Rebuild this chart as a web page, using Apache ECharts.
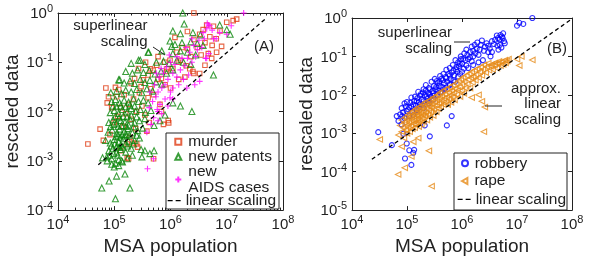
<!DOCTYPE html>
<html>
<head>
<meta charset="utf-8">
<script src="https://cdn.jsdelivr.net/npm/echarts@6/dist/echarts.min.js"></script>
<style>
  html, body { margin: 0; padding: 0; background: #fff; }
  #chart { width: 594px; height: 261px; }
</style>
</head>
<body>
<div id="chart"></div>
<script>
// ---- panel (A) : [MSA population, rescaled value] ----
var murder = [
  [3.4e4,2.2e-3],[5.6e4,4.4e-3],[6.4e4,2.6e-3],[7.1e4,3.0e-2],[7.9e4,2.0e-2],[8.4e4,3.4e-3],[7.5e4,1.5e-2],[9.0e4,1.2e-2],[1.05e5,3.1e-2],[1.1e5,2.0e-2],
  [1.3e5,1.6e-3],[1.7e5,2.2e-3],[1.8e5,1.1e-3],[2.2e5,2.3e-3],[2.6e5,1.9e-3],[5.0e5,1.1e-3],[1.7e5,1.15e-3],[2.5e5,2.2e-3],
  [1.0e5,6.0e-3],[1.15e5,8.0e-3],[1.3e5,1.2e-2],[1.45e5,5.0e-3],[1.6e5,9.0e-3],[1.8e5,1.4e-2],[2.0e5,7.0e-3],[2.2e5,1.8e-2],[2.5e5,1.0e-2],[2.8e5,2.4e-2],
  [3.1e5,1.3e-2],[3.5e5,8.5e-3],[3.0e5,3.2e-2],[2.4e5,4.5e-3],[1.9e5,3.0e-3],[1.2e5,2.8e-2],[1.5e5,2.2e-2],[4.0e5,1.9e-2],[4.5e5,2.9e-2],[3.8e5,4.0e-3],
  [4.2e5,6.0e-3],[9.3e5,5.9e-3],[7.5e5,5.5e-3],[6.5e5,1.4e-2],[9.1e5,6.6e-3],[6.9e5,1.0e-2],
  [2.0e5,3.7e-2],[2.3e5,4.7e-2],[3.3e5,4.4e-2],[4.0e5,5.5e-2],[4.9e5,6.9e-2],[5.7e5,8.7e-2],[7.9e5,0.10],[9.8e5,0.11],[1.3e6,0.16],[1.6e6,0.20],
  [2.0e6,0.19],[2.6e6,0.29],[3.3e6,0.37],[3.8e6,0.46],[5.8e6,0.54],[7.6e6,0.43],[1.0e7,0.65],[1.3e7,0.70],[1.5e7,0.75],[4.4e6,0.57],[2.6e6,1.0],
  [4.7e6,0.15],[1.2e6,0.32],[2.0e6,0.42],
  [2.7e5,0.075],[3.6e5,0.10],[6.0e5,0.13],[8.5e5,0.065],[1.1e6,0.075],[1.5e6,0.11],[1.9e6,0.085],[2.3e6,0.13],[3.0e6,0.20],[3.5e6,0.14],
  [4.1e6,0.25],[5.0e6,0.33],[5.5e6,0.22],[6.5e6,0.30],[1.8e6,0.05],[2.5e6,0.065],[8.0e5,0.035],[6.0e5,0.045],[1.0e6,0.03],[5.0e5,0.022],[1.4e6,0.045],
  [4.4e5,0.074],[6.9e5,0.047],[8.7e5,0.074],[1.38e6,0.10],[2.2e6,0.074],[2.6e6,0.059],[3.3e6,0.059],[4.1e6,0.087],[5.4e6,0.12],[6.6e6,0.16],[8.1e6,0.21]
];
var patents = [
  [6.0e4,2.8e-4],[1.05e5,1.7e-4],[1.1e5,4.9e-4],[8.1e4,3.9e-4],[1.55e5,5.4e-4],[1.9e5,2.8e-4],[6.2e4,1.15e-3],[7.4e4,1.2e-3],[9.0e4,8.5e-4],[1.0e5,7.5e-4],
  [1.2e5,8.0e-4],[1.35e5,1.0e-3],[1.7e5,1.1e-3],[2.1e5,1.3e-3],[3.0e5,1.7e-3],[3.1e5,1.2e-3],[4.3e5,1.4e-3],[5.1e5,1.6e-3],[3.5e5,1.6e-3],
  [7.5e4,1.0e-3],[9.0e4,1.1e-3],[1.05e5,9.0e-4],[1.2e5,1.05e-3],[1.4e5,9.5e-4],[1.15e5,1.3e-3],
  [8.0e4,1.6e-3],[9.5e4,1.8e-3],[1.1e5,1.5e-3],[1.3e5,1.7e-3],[1.6e5,1.5e-3],[2.0e5,1.8e-3],
  [7.0e4,2.6e-3],[8.5e4,2.3e-3],[1.0e5,2.7e-3],[1.2e5,2.4e-3],[1.45e5,2.8e-3],[1.8e5,2.5e-3],[2.3e5,2.6e-3],[2.8e5,2.9e-3],
  [7.8e4,3.8e-3],[9.2e4,4.2e-3],[1.1e5,3.6e-3],[1.25e5,4.4e-3],[1.5e5,3.9e-3],[1.75e5,4.5e-3],[2.1e5,3.7e-3],[2.6e5,4.1e-3],[3.2e5,4.6e-3],
  [8.0e4,6.0e-3],[9.5e4,6.8e-3],[1.1e5,5.8e-3],[1.3e5,6.6e-3],[1.55e5,6.1e-3],[1.9e5,7.0e-3],[2.3e5,5.9e-3],[2.8e5,6.5e-3],[3.5e5,7.2e-3],
  [8.5e4,9.5e-3],[1.0e5,1.05e-2],[1.2e5,9.2e-3],[1.4e5,1.1e-2],[1.7e5,9.8e-3],[2.0e5,1.15e-2],[2.4e5,1.0e-2],[2.9e5,1.1e-2],[3.6e5,9.6e-3],[4.5e5,1.05e-2],
  [9.0e4,1.6e-2],[1.05e5,1.75e-2],[1.25e5,1.5e-2],[1.5e5,1.7e-2],[1.8e5,1.55e-2],[2.2e5,1.8e-2],[2.7e5,1.6e-2],[3.3e5,1.7e-2],[4.0e5,1.5e-2],
  [8.7e4,2.4e-2],[1.1e5,2.6e-2],[1.35e5,2.3e-2],[1.6e5,2.7e-2],[2.0e5,2.5e-2],[2.5e5,2.8e-2],[3.1e5,2.4e-2],[3.8e5,2.9e-2],[4.8e5,2.6e-2],
  [1.2e5,4.4e-2],[1.5e5,3.8e-2],[1.9e5,4.2e-2],[2.3e5,3.7e-2],[2.9e5,4.5e-2],[3.5e5,3.9e-2],[4.3e5,4.3e-2],[5.5e5,4.0e-2],[7.0e5,3.6e-2],
  [1.6e5,6.5e-2],[2.1e5,6.0e-2],[2.6e5,7.0e-2],[3.3e5,6.2e-2],[4.2e5,6.8e-2],[5.3e5,5.8e-2],[6.8e5,6.6e-2],[8.5e5,6.0e-2],[1.1e6,7.0e-2],
  [2.0e5,0.095],[2.7e5,0.11],[3.5e5,0.09],[5.6e5,0.10],[7.5e5,0.105],[9.5e5,0.095],[1.3e6,0.11],[1.7e6,0.10],[2.3e6,0.09],
  [2.9e5,0.11],[4.1e5,0.16],[7.0e5,0.17],[1.1e6,0.15],[1.5e6,0.17],[2.0e6,0.16],[2.8e6,0.14],
  [9.8e5,0.27],[1.2e6,0.23],[1.6e6,0.25],[2.3e6,0.26],[3.0e6,0.24],[3.8e6,0.22],
  [1.1e6,0.43],[1.5e6,0.38],[2.5e6,0.40],[3.4e6,0.36],
  [1.65e6,1.0],[1.75e6,0.60],[7.5e6,0.57],[1.0e7,0.46],[1.15e7,0.37],[5.8e6,5.5e-2],[2.4e6,1.0e-2],[1.1e6,1.5e-2],[1.5e6,1.3e-2],
  [8.0e5,8.5e-3],[6.5e5,6.5e-3],[5.1e5,5.2e-3],[1.25e5,4.4e-2],[4.0e5,0.16],[1.05e6,0.21],
  [8.2e4,1.3e-3],[8.8e4,2.0e-3],[9.8e4,1.4e-3],[1.02e5,2.2e-3],[1.08e5,3.1e-3],[1.12e5,2.0e-3],[1.18e5,3.3e-3],[1.22e5,1.9e-3],[1.28e5,3.0e-3],
  [1.32e5,2.1e-3],[1.38e5,3.4e-3],[1.42e5,1.9e-3],[1.52e5,3.2e-3],[1.58e5,2.2e-3],[1.65e5,3.4e-3],[1.72e5,2.0e-3],[1.85e5,3.3e-3],[2.2e5,2.2e-3],
  [2.5e5,3.3e-3],[8.6e4,5.0e-3],[9.8e4,5.5e-3],[1.05e5,8.0e-3],[1.17e5,5.0e-3],[1.22e5,7.5e-3],[1.35e5,5.2e-3],[1.45e5,8.0e-3],[1.6e5,5.0e-3],
  [1.68e5,7.8e-3],[1.8e5,5.3e-3],[2.0e5,8.4e-3],[2.2e5,4.9e-3],[2.5e5,7.8e-3],[9.5e4,1.3e-2],[1.1e5,1.25e-2],[1.3e5,1.3e-2],[1.6e5,1.25e-2],
  [1.9e5,1.35e-2],[2.3e5,1.3e-2]
];
var aids = [
  [3.9e5,6.9e-4],[5.0e5,1.1e-3],[3.8e5,3.8e-3],[4.5e5,5.5e-3],[5.0e5,7.5e-3],[6.0e5,6.5e-3],[7.0e5,9.0e-3],
  [4.2e5,1.2e-2],[4.8e5,1.6e-2],[5.5e5,2.0e-2],[6.0e5,2.5e-2],[7.0e5,3.0e-2],[8.0e5,3.5e-2],[9.0e5,4.5e-2],[1.1e6,6.0e-2],[1.3e6,5.0e-2],
  [1.5e6,7.0e-2],[1.8e6,8.5e-2],[2.0e6,0.12],[2.4e6,0.10],[2.8e6,0.13],[3.0e6,0.18],[3.6e6,0.20],[4.2e6,0.12],[4.8e6,0.15],[6.5e6,0.30],
  [5.5e6,0.45],[4.5e6,0.62],[5.0e6,0.55],[1.0e7,0.37],[1.2e7,0.55],[2.0e7,1.0],
  [5.2e5,3.5e-2],[6.3e5,5.0e-2],[7.5e5,6.0e-2],[8.5e5,8.0e-2],[1.0e6,0.10],[1.2e6,9.0e-2],[1.6e6,0.12],[2.2e6,0.16],[2.6e6,0.22],[3.2e6,0.28],[4.0e6,0.30],
  [1.4e6,3.5e-2],[1.7e6,4.5e-2],[2.1e6,5.5e-2],[1.0e6,2.5e-2],[8.0e5,1.8e-2],[6.5e5,1.4e-2],[5.8e5,1.1e-2],[9.0e5,1.3e-2],[1.1e6,1.8e-2],
  [4.3e5,2.5e-2],[5.6e5,6.0e-2],[6.8e5,7.5e-2],[9.5e5,0.14],[1.3e6,0.13],[1.9e6,0.20],[2.4e6,0.30],[3.8e6,0.40],[4.4e6,0.48],[7.5e6,0.40],
  [4.7e6,0.57],[5.8e6,0.30],[4.4e6,0.12],[3.3e6,4.1e-2],[2.7e6,3.5e-2],[1.95e6,3.0e-2],[1.1e6,3.0e-2],[9.8e5,1.9e-2],[6.0e5,1.0e-2]
];
var linearA = [[5.2e4, 8.3e-4], [5.1e7, 0.8]];

// ---- panel (B) ----
var robbery = [
  [1.9e7,1.0],[1.0e7,0.63],[1.1e7,0.75],[1.3e7,0.70],
  [5.6e6,0.40],[5.3e6,0.33],[4.8e6,0.28],[5.8e6,0.25],[4.5e6,0.30],[4.3e6,0.35],[4.9e6,0.20],[5.2e6,0.17],[6.0e6,0.22],[4.6e6,0.15],
  [3.5e6,0.13],[3.3e6,0.10],[3.0e6,0.19],[2.1e6,0.15],[1.9e6,0.23],[1.6e6,0.14],[1.2e6,0.15],[1.4e6,0.095],[1.05e6,0.086],[9.1e5,0.064],
  [7.9e5,0.053],[7.0e5,0.043],[6.0e5,0.032],[5.2e5,0.027],[4.5e5,0.024],[3.9e5,0.022],[3.4e5,0.016],[3.0e5,0.011],[2.6e5,0.010],[2.3e5,0.0092],
  [2.0e5,0.0068],[1.7e5,0.0056],[1.5e5,0.0068],[1.3e5,0.0056],[1.1e5,0.0047],[9.9e4,0.0038],[7.5e4,0.0031],[8.0e4,0.0017],[8.6e4,9.7e-4],
  [9.9e4,5.4e-4],[1.1e5,3.6e-4],[1.3e5,3.1e-4],[9.2e4,2.2e-4],[1.2e5,1.5e-4],[3.0e4,1.07e-3],[5.3e4,4.9e-4],[5.3e5,1.6e-3],[6.5e5,2.8e-3],
  [2.1e5,1.6e-3],[2.6e5,8.3e-4],[1.35e5,3.7e-4],
  [1.0e5,6.5e-3],[1.2e5,8.5e-3],[1.4e5,9.0e-3],[1.6e5,1.2e-2],[1.8e5,1.05e-2],[2.0e5,1.4e-2],[2.2e5,1.8e-2],[2.5e5,1.5e-2],[2.8e5,2.2e-2],
  [3.2e5,2.6e-2],[3.6e5,2.0e-2],[4.0e5,3.1e-2],[4.6e5,3.5e-2],[5.2e5,4.5e-2],[6.0e5,5.0e-2],[6.8e5,6.0e-2],[7.6e5,8.0e-2],[8.5e5,7.0e-2],
  [9.5e5,0.10],[1.1e6,0.12],[1.25e6,0.11],[1.5e6,0.18],[1.7e6,0.20],[2.3e6,0.26],[2.6e6,0.18],[2.0e6,0.11],[3.0e6,0.13],[3.5e6,0.25],
  [1.5e5,4.0e-3],[2.0e5,4.5e-3],[2.5e5,6.0e-3],[3.0e5,7.5e-3],[3.5e5,1.0e-2],[4.2e5,1.2e-2],[5.0e5,1.5e-2],[6.0e5,1.9e-2],[7.0e5,2.4e-2],
  [8.5e5,3.0e-2],[1.0e6,4.0e-2],[1.3e6,5.0e-2],[1.6e6,6.0e-2],[2.0e6,7.0e-2],[2.4e6,8.0e-2],
  [9.0e4,2.5e-3],[1.1e5,2.8e-3],[1.3e5,3.0e-3],[7.0e4,2.1e-3],[8.0e4,4.5e-3],[6.5e4,2.8e-3],
  [8.5e4,3.5e-3],[9.5e4,5.0e-3],[1.05e5,4.2e-3],[1.15e5,6.2e-3],[1.25e5,3.6e-3],[1.2e5,5.0e-3],[9.0e4,6.0e-3],[8.2e4,2.8e-3],
  [1.35e5,7.0e-3],[1.45e5,5.2e-3],[1.55e5,8.2e-3],[1.65e5,6.5e-3],[1.75e5,9.5e-3],[1.85e5,7.5e-3],[1.95e5,1.15e-2],[1.6e5,4.5e-3],[1.9e5,5.5e-3],
  [2.1e5,9.8e-3],[2.2e5,1.3e-2],[2.35e5,8.0e-3],[2.45e5,1.1e-2],[2.6e5,1.4e-2],[2.7e5,9.0e-3],[2.9e5,1.25e-2],[3.1e5,1.7e-2],[2.4e5,6.8e-3],[3.0e5,9.5e-3],
  [3.3e5,1.4e-2],[3.5e5,2.3e-2],[3.7e5,1.3e-2],[3.9e5,1.7e-2],[4.2e5,2.6e-2],[4.4e5,1.6e-2],[4.7e5,2.0e-2],[5.0e5,2.9e-2],[4.0e5,1.15e-2],[4.8e5,1.4e-2],
  [5.4e5,2.2e-2],[5.7e5,3.5e-2],[6.2e5,2.6e-2],[6.5e5,3.8e-2],[7.2e5,3.2e-2],[7.8e5,4.6e-2],[6.0e5,1.8e-2],[7.5e5,2.2e-2],
  [8.2e5,4.0e-2],[8.8e5,5.6e-2],[9.2e5,3.5e-2],[1.0e6,6.5e-2],[1.08e6,4.8e-2],[1.15e6,8.0e-2],[1.2e6,5.8e-2],[9.6e5,8.5e-2],
  [1.3e6,8.5e-2],[1.4e6,0.13],[1.5e6,7.5e-2],[1.6e6,0.10],[1.75e6,0.12],[1.85e6,0.16],[2.2e6,0.20],[2.5e6,0.14],[2.8e6,0.22],
  [3.2e6,0.16],[3.8e6,0.21],[4.0e6,0.27],[4.4e6,0.19],[5.0e6,0.36],[5.5e6,0.30]
];
var rape = [
  [7.0e4,9.0e-4],[7.5e4,1.6e-3],[8.0e4,1.1e-3],[8.0e4,2.2e-3],[8.5e4,1.4e-3],[8.8e4,7.5e-4],[9.0e4,1.9e-3],[9.3e4,2.6e-3],[9.5e4,1.2e-3],[9.7e4,1.6e-3],
  [1.0e5,2.2e-3],[1.0e5,1.0e-3],[1.03e5,3.0e-3],[1.05e5,1.4e-3],[1.08e5,1.9e-3],[1.1e5,2.6e-3],[1.12e5,1.1e-3],[1.15e5,3.4e-3],[1.18e5,1.6e-3],
  [1.2e5,2.2e-3],[1.22e5,2.9e-3],[1.25e5,1.3e-3],[1.28e5,3.8e-3],[1.3e5,1.8e-3],[1.33e5,2.5e-3],[1.35e5,3.2e-3],[1.38e5,1.4e-3],[1.4e5,2.2e-3],
  [1.43e5,4.2e-3],[1.45e5,1.7e-3],[1.48e5,2.8e-3],
  [1.5e5,3.5e-3],[1.53e5,1.9e-3],[1.55e5,4.6e-3],[1.58e5,2.4e-3],[1.6e5,3.0e-3],[1.63e5,1.5e-3],[1.65e5,3.9e-3],[1.68e5,2.1e-3],[1.7e5,5.0e-3],
  [1.75e5,2.7e-3],[1.8e5,3.4e-3],[1.82e5,1.7e-3],[1.85e5,4.5e-3],[1.88e5,2.4e-3],[1.9e5,5.8e-3],[1.95e5,3.0e-3],
  [2.0e5,3.8e-3],[2.0e5,2.0e-3],[2.05e5,5.2e-3],[2.1e5,2.8e-3],[2.15e5,6.4e-3],[2.2e5,3.4e-3],[2.25e5,4.4e-3],[2.3e5,2.2e-3],[2.35e5,5.6e-3],
  [2.4e5,3.0e-3],[2.45e5,7.0e-3],[2.5e5,4.0e-3],[2.55e5,5.0e-3],[2.6e5,2.6e-3],[2.65e5,6.2e-3],[2.7e5,3.6e-3],[2.75e5,7.8e-3],[2.8e5,4.6e-3],
  [2.9e5,5.6e-3],[3.0e5,2.9e-3],[3.0e5,8.5e-3],
  [3.1e5,4.2e-3],[3.2e5,6.4e-3],[3.25e5,9.0e-3],[3.4e5,3.6e-3],[3.45e5,5.4e-3],[3.5e5,7.4e-3],[3.6e5,1.0e-2],[3.7e5,4.4e-3],[3.8e5,6.0e-3],
  [3.9e5,8.2e-3],[4.0e5,1.15e-2],[4.1e5,5.0e-3],[4.2e5,7.0e-3],[4.3e5,9.4e-3],[4.5e5,1.3e-2],[4.6e5,5.6e-3],[4.7e5,8.0e-3],[4.9e5,1.05e-2],
  [5.0e5,6.6e-3],[5.2e5,1.4e-2],[5.3e5,8.6e-3],
  [5.5e5,5.6e-3],[5.7e5,1.15e-2],[5.8e5,7.8e-3],[6.0e5,1.6e-2],[6.1e5,9.8e-3],[6.3e5,6.4e-3],[6.5e5,1.3e-2],[6.7e5,8.6e-3],[6.9e5,1.8e-2],
  [7.0e5,1.1e-2],[7.3e5,7.4e-3],[7.5e5,1.45e-2],[7.8e5,2.0e-2],[8.0e5,1.0e-2],[8.3e5,1.3e-2],[8.6e5,2.3e-2],[9.0e5,1.6e-2],[9.2e5,9.0e-3],
  [9.5e5,2.6e-2],[9.8e5,1.3e-2],
  [1.0e6,1.9e-2],[1.05e6,2.9e-2],[1.08e6,1.1e-2],[1.1e6,2.2e-2],[1.15e6,1.5e-2],[1.2e6,3.2e-2],[1.25e6,1.9e-2],[1.3e6,2.5e-2],[1.35e6,3.6e-2],
  [1.4e6,1.5e-2],[1.45e6,2.8e-2],[1.5e6,4.0e-2],[1.55e6,2.1e-2],[1.6e6,3.0e-2],[1.7e6,4.4e-2],[1.75e6,2.4e-2],[1.8e6,3.4e-2],[1.9e6,4.8e-2],
  [2.0e6,2.8e-2],
  [2.1e6,4.0e-2],[2.2e6,5.2e-2],[2.3e6,3.2e-2],[2.4e6,4.6e-2],[2.5e6,6.0e-2],[2.7e6,3.8e-2],[2.8e6,5.4e-2],[3.0e6,6.6e-2],[3.1e6,4.4e-2],
  [3.3e6,5.6e-2],[3.5e6,6.2e-2],[3.6e6,4.6e-2],[3.9e6,6.0e-2],[4.0e6,6.8e-2],[4.3e6,5.0e-2],[4.5e6,6.6e-2],[4.7e6,7.4e-2],[5.0e6,5.8e-2],
  [5.2e6,7.2e-2],[5.6e6,6.2e-2],[6.0e6,8.0e-2],[6.2e6,6.8e-2],[6.6e6,7.6e-2],[7.0e6,8.5e-2],
  [3.2e4,6.9e-4],[6.9e4,8.5e-5],[9.1e4,1.26e-4],[1.2e5,2.5e-4],[2.8e5,4.2e-5],[2.5e5,3.5e-4],[2.5e6,1.1e-3],[2.6e6,4.8e-3],[2.3e6,6.8e-3],
  [1.0e7,8.5e-2],[1.1e7,5.8e-2],[1.9e7,8.1e-2],[1.2e7,0.10],[1.5e6,8.5e-3],[8.0e4,4.5e-4],[1.3e5,6.0e-4],[1.6e5,7.5e-4],[2.0e6,1.0e-2]
];
var linearB = [[2.3e4, 2.1e-4], [1e8, 0.95]];

var FONT = '"Liberation Sans", Arial, Helvetica, sans-serif';
var INK = '#222';

// minor tick positions for panel A x axis
var minorX = [];
[1e4, 1e5, 1e6, 1e7].forEach(function (d) {
  for (var k = 2; k <= 9; k++) minorX.push(d * k);
});

function tickLabel(v) {
  return '{b|10}{s|' + Math.round(Math.log10(v)) + '}';
}
var rich = {
  b: { fontSize: 15, lineHeight: 15, padding: [6, 0, 0, 0], color: INK, fontFamily: FONT },
  s: { fontSize: 11, lineHeight: 11, verticalAlign: 'top', color: INK, fontFamily: FONT }
};

function logAxis(grid, pos, min, max, opts) {
  opts = opts || {};
  var isX = pos === 'top' || pos === 'bottom';
  return {
    type: 'log', logBase: 10, gridIndex: grid, position: pos, min: min, max: max,
    axisLine: { show: opts.line !== false, onZero: false, lineStyle: { color: INK, width: 1 } },
    axisTick: opts.custom
      ? { show: true, inside: true, length: 2.5, customValues: opts.custom, lineStyle: { color: INK } }
      : { show: true, inside: true, length: 4, lineStyle: { color: INK } },
    axisLabel: opts.labels
      ? { show: true, formatter: tickLabel, rich: rich, margin: isX ? 4 : 5,
          padding: isX ? 0 : [0, 0, 4, 0], showMinLabel: true, showMaxLabel: true }
      : { show: false },
    splitLine: { show: false },
    minorTick: { show: false },
    name: opts.name || '', nameLocation: 'middle', nameGap: isX ? 22 : 35,
    nameTextStyle: { fontSize: 19, color: INK, fontFamily: FONT }
  };
}

function hollow(name, x, y, symbol, size, color, data, rotate) {
  return {
    name: name, type: 'scatter', xAxisIndex: x, yAxisIndex: y, data: data,
    symbol: symbol, symbolSize: size, symbolRotate: rotate || 0,
    itemStyle: { color: 'rgba(0,0,0,0)', borderColor: color, borderWidth: 1.1 },
    emphasis: { disabled: true }, silent: true
  };
}

function dashed(x, y, data) {
  return {
    name: 'linear scaling', type: 'line', xAxisIndex: x, yAxisIndex: y, data: data,
    symbol: 'none', silent: true,
    itemStyle: { color: '#000' },
    lineStyle: { color: '#000', width: 1.3, type: [4, 3] }
  };
}

var legendText = { fontSize: 15.5, lineHeight: 16, color: INK, fontFamily: FONT };
// scatter entry: icon of 6px centred at cx
function legendMark(name, cx, top, textPad, icon) {
  return {
    data: [icon ? { name: name, icon: icon } : name], left: cx - 3, top: top, orient: 'vertical', padding: 0,
    itemWidth: 6, itemHeight: 6, selectedMode: false,
    textStyle: Object.assign({ padding: [0, 0, 0, textPad || 0] }, legendText)
  };
}
// dashed-line entry
function legendLine(name, left, top) {
  return {
    data: [name], left: left, top: top, orient: 'vertical', padding: 0,
    itemWidth: 13, itemHeight: 6, selectedMode: false,
    itemStyle: { opacity: 0 },
    lineStyle: { color: '#000', type: [5, 3], width: 1.3 },
    textStyle: legendText
  };
}

function txt(x, y, s, align) {
  return {
    type: 'text', x: x, y: y, z: 10, silent: true,
    style: { text: s, font: '15px ' + FONT, fill: INK,
             textAlign: align || 'right', align: align || 'right',
             textVerticalAlign: 'middle', verticalAlign: 'middle' }
  };
}
function seg(x1, y1, x2, y2) {
  return { type: 'line', z: 10, silent: true, shape: { x1: x1, y1: y1, x2: x2, y2: y2 },
           style: { stroke: INK, lineWidth: 1 } };
}

var chart = echarts.init(document.getElementById('chart'), null, { renderer: 'canvas' });
chart.setOption({
  backgroundColor: '#fff',
  animation: false,
  grid: [
    { left: 58, top: 13, width: 225, height: 202 },
    { left: 352, top: 18, width: 220, height: 197 }
  ],
  xAxis: [
    logAxis(0, 'bottom', 1e4, 1e8, { labels: true, name: 'MSA population' }),
    logAxis(0, 'top', 1e4, 1e8),
    logAxis(1, 'bottom', 1e4, 1e8, { labels: true, name: 'MSA population' }),
    logAxis(1, 'top', 1e4, 1e8),
    logAxis(0, 'bottom', 1e4, 1e8, { line: false, custom: minorX }),
    logAxis(0, 'top', 1e4, 1e8, { line: false, custom: minorX })
  ],
  yAxis: [
    logAxis(0, 'left', 1e-4, 1, { labels: true, name: 'rescaled data' }),
    logAxis(0, 'right', 1e-4, 1),
    logAxis(1, 'left', 1e-5, 1, { labels: true, name: 'rescaled data' }),
    logAxis(1, 'right', 1e-5, 1)
  ],
  legend: [
    legendMark('murder', 177.3, 133.7, 2),
    legendMark('new patents', 177.3, 148.7, 2),
    legendMark('new\nAIDS cases', 177.3, 163.5, 2),
    legendLine('linear scaling', 167, 192.7),
    legendMark('robbery', 464, 155.3, 1.7),
    legendMark('rape', 464, 173, 1.7, 'path://M0,5L9,0L9,10Z'),
    legendLine('linear scaling', 457, 191.3)
  ],
  graphic: [
    { type: 'rect', z: 3, silent: true, shape: { x: 166, y: 133, width: 113, height: 76 },
      style: { fill: '#fff', stroke: INK, lineWidth: 1 } },
    { type: 'rect', z: 3, silent: true, shape: { x: 454, y: 153, width: 113, height: 57 },
      style: { fill: '#fff', stroke: INK, lineWidth: 1 } },
    txt(147.5, 26, 'superlinear'), txt(147.5, 42, 'scaling'), seg(153, 47, 165, 55),
    txt(264, 47, '(A)', 'center'),
    txt(452, 33, 'superlinear'), txt(452, 49, 'scaling'), seg(454, 42, 470, 42),
    txt(557, 49, '(B)', 'center'),
    txt(561, 89, 'approx.'), txt(561, 104, 'linear'), txt(561, 119.5, 'scaling'), seg(485, 106, 502, 106)
  ],
  series: [
    hollow('murder', 0, 0, 'rect', 4.5, '#e03c14', murder),
    hollow('new patents', 0, 0, 'triangle', 6, '#0a860a', patents),
    hollow('new\nAIDS cases', 0, 0, 'path://M0,5L10,5M5,0L5,10', 6, '#ff00ff', aids),
    dashed(0, 0, linearA),
    hollow('robbery', 2, 2, 'circle', 5, '#0000ff', robbery),
    hollow('rape', 2, 2, 'triangle', 5.5, '#e68a17', rape, 90),
    dashed(2, 2, linearB)
  ]
});
</script>
</body>
</html>
